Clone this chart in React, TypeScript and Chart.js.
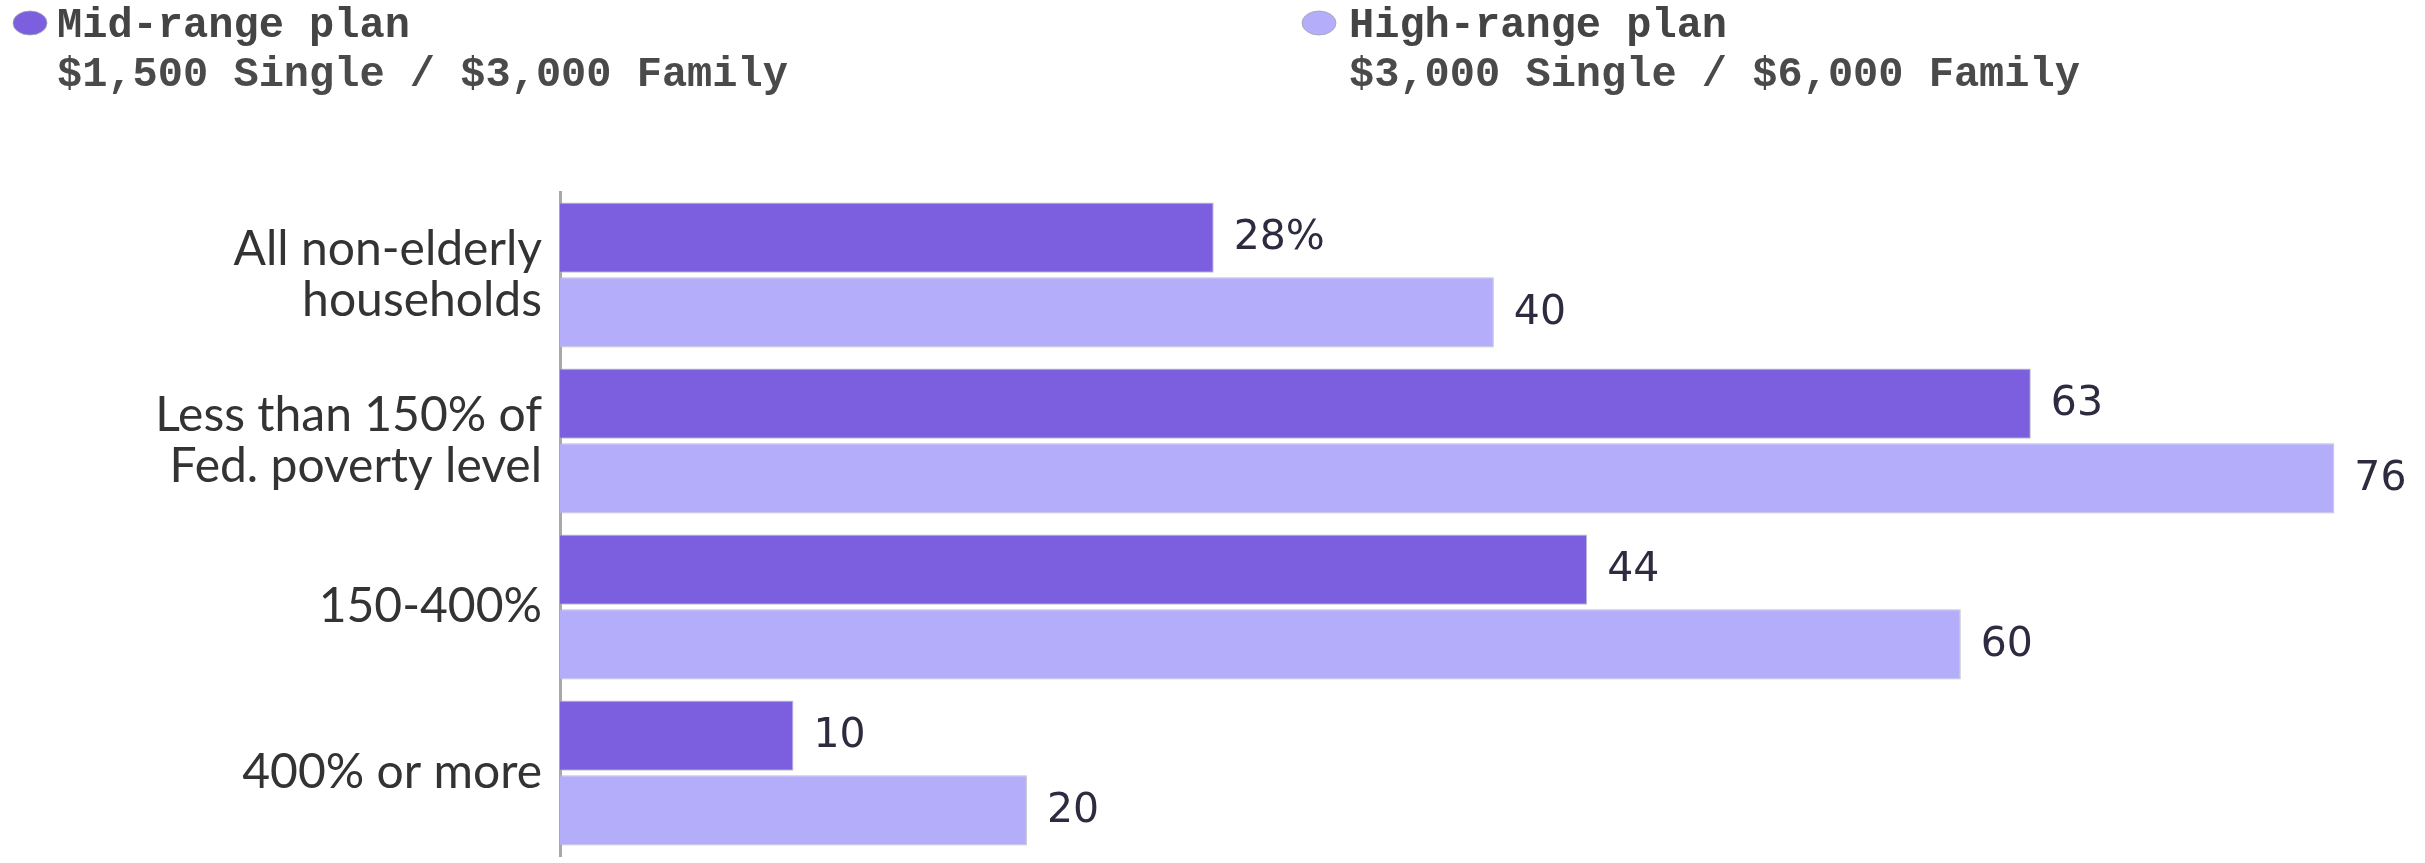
import React, { useEffect, useRef } from "react";
import { Chart, registerables } from "chart.js";

Chart.register(...registerables);

const categories: (string | string[])[] = [
  ["All non-elderly", "households"],
  ["Less than 150% of", "Fed. poverty level"],
  "150-400%",
  "400% or more",
];
const midRange = [28, 63, 44, 10];
const highRange = [40, 76, 60, 20];
const seriesNames = ["Mid-range plan", "High-range plan"];
const seriesSubtitles = ["$1,500 Single / $3,000 Family", "$3,000 Single / $6,000 Family"];
const colors = ["#7b5fdf", "#b4aefa"];
const xMax = 78;

const legendPlugin = {
  id: "customLegend",
  afterDraw(chart: any) {
    const ctx = chart.ctx;
    const items = [
      { mx: 30, tx: 57 },
      { mx: 1319, tx: 1349 },
    ];
    ctx.save();
    items.forEach((it, i) => {
      ctx.fillStyle = colors[i];
      ctx.strokeStyle = "rgba(160,160,170,0.8)";
      ctx.lineWidth = 1;
      ctx.beginPath();
      ctx.ellipse(it.mx, 23, 17, 12, 0, 0, Math.PI * 2);
      ctx.fill();
      ctx.stroke();
      ctx.font = "bold 42px 'Liberation Mono', monospace";
      ctx.textAlign = "left";
      ctx.textBaseline = "alphabetic";
      ctx.fillStyle = "#444444";
      ctx.fillText(seriesNames[i], it.tx, 37);
      ctx.fillStyle = "#4a4a4a";
      ctx.fillText(seriesSubtitles[i], it.tx, 86);
    });
    ctx.restore();
  },
};

const valueLabelPlugin = {
  id: "valueLabels",
  afterDatasetsDraw(chart: any) {
    const ctx = chart.ctx;
    ctx.save();
    ctx.font = "41px 'DejaVu Sans', sans-serif";
    ctx.fillStyle = "#2e2a40";
    ctx.textAlign = "left";
    ctx.textBaseline = "middle";
    chart.data.datasets.forEach((ds: any, di: number) => {
      const meta = chart.getDatasetMeta(di);
      meta.data.forEach((el: any, i: number) => {
        const v = ds.data[i];
        const txt = di === 0 && i === 0 ? `${v}%` : `${v}`;
        ctx.fillText(txt, el.x + 20, el.y + 1);
      });
    });
    ctx.restore();
  },
};

export default function App() {
  const ref = useRef<HTMLCanvasElement>(null);
  useEffect(() => {
    if (!ref.current) return;
    const chart = new Chart(ref.current, {
      type: "bar",
      data: {
        labels: categories,
        datasets: [
          {
            label: seriesNames[0],
            data: midRange,
            backgroundColor: colors[0],
            borderColor: "rgba(185,185,195,0.9)",
            borderWidth: 1,
          },
          {
            label: seriesNames[1],
            data: highRange,
            backgroundColor: colors[1],
            borderColor: "rgba(185,185,195,0.9)",
            borderWidth: 1,
          },
        ],
      },
      options: {
        indexAxis: "y",
        animation: false,
        responsive: true,
        maintainAspectRatio: false,
        layout: { padding: { top: 192, bottom: 7, right: 44, left: 0 } },
        datasets: {
          bar: { categoryPercentage: 0.9, barPercentage: 0.94 },
        },
        plugins: {
          legend: { display: false },
          tooltip: { enabled: false },
        },
        scales: {
          x: {
            display: false,
            min: 0,
            max: xMax,
          },
          y: {
            grid: { display: false, drawTicks: false },
            border: { display: true, color: "#a8a8a8", width: 3 },
            ticks: {
              color: "#333333",
              padding: 18,
              font: { family: "Lato, sans-serif", size: 48, lineHeight: 1.07 },
            },
            afterFit: (scale: any) => {
              scale.width = 560;
              scale.paddingTop = 0;
              scale.paddingBottom = 0;
            },
          },
        },
      } as any,
      plugins: [legendPlugin, valueLabelPlugin],
    });
    return () => chart.destroy();
  }, []);
  return (
    <div style={{ position: "absolute", left: 0, top: 0, width: 2425, height: 863 }}>
      <canvas ref={ref} />
    </div>
  );
}
